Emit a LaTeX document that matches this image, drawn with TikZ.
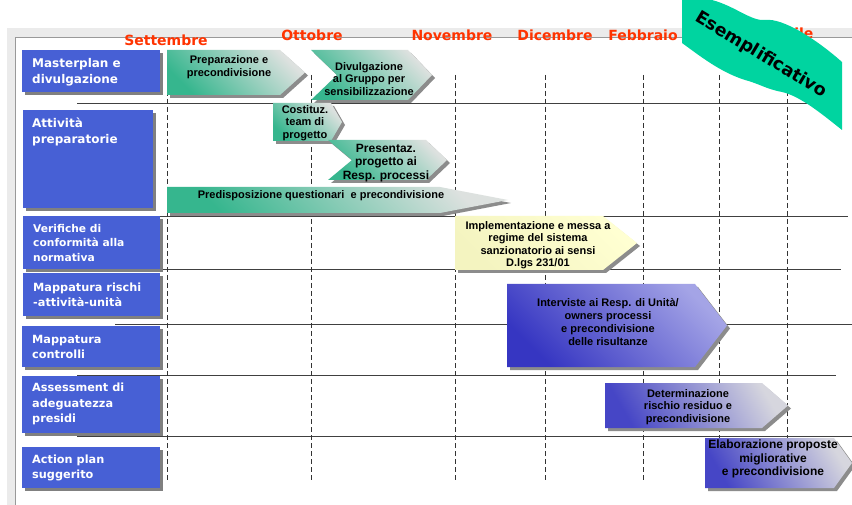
\documentclass[tikz,border=0pt]{standalone}
\usepackage{fontspec}
\setmainfont{DejaVu Sans}
\newfontfamily\phasefont{Liberation Sans}
\usetikzlibrary{shadows}

\definecolor{monthred}{HTML}{FF3300}
\definecolor{rowblue}{HTML}{4760D5}
\definecolor{flaggreen}{HTML}{00D4A0}
\definecolor{tealgreen}{HTML}{36B68E}
\definecolor{palegrey}{HTML}{DDE1DF}
\definecolor{deepblue}{HTML}{3636C2}
\definecolor{lavender}{HTML}{A4A4E6}
\definecolor{steelgrey}{HTML}{D6D6DE}
\definecolor{midblue}{HTML}{4646C6}
\definecolor{paleyellow}{HTML}{FFFFD2}
\definecolor{dimyellow}{HTML}{F4F4C0}

% one phase of the plan: style, left, top, tip start, tip, bottom, notch
\newcommand\phasebox[7]{%
  \path[#1] (#2,#3) -- (#4,#3) -- (#5,{(#3+#6)/2}) -- (#4,#6) -- (#2,#6)
    -- ({#2+#7},{(#3+#6)/2}) -- cycle;}

\begin{document}
\begin{tikzpicture}[x=1pt,y=-1pt,
    month/.style={text=monthred,font=\bfseries\fontsize{14}{16}\selectfont},
    rowbox/.style={fill=rowblue,anchor=north west,inner sep=0pt,
      drop shadow={shadow xshift=3pt,shadow yshift=-3pt,fill=black!50,opacity=1}},
    rowtext/.style={text=white,align=left,anchor=west,inner sep=0pt,
      font=\bfseries\fontsize{11.3}{15.5}\selectfont},
    rowline/.style={draw=black!75,line width=0.8pt},
    monthline/.style={draw=black!80,line width=0.8pt,dash pattern=on 5pt off 3pt},
    phasearrow/.style={drop shadow={shadow xshift=3pt,shadow yshift=-3pt,fill=black!45,opacity=1}},
    greenphase/.style={phasearrow,top color=palegrey,bottom color=tealgreen,shading angle=-45},
    yellowphase/.style={phasearrow,top color=paleyellow,bottom color=dimyellow,shading angle=-45},
    bluephase/.style={phasearrow,top color=lavender,bottom color=deepblue,shading angle=-45},
    greyphase/.style={phasearrow,top color=steelgrey,bottom color=midblue,shading angle=-60},
    phasetext/.style={align=center,inner sep=0pt,
      font=\phasefont\bfseries\fontsize{11}{12.8}\selectfont}]
  \useasboundingbox (0,0) rectangle (852,505);

  % frame
  \fill[black!8] (7,28) rectangle (852,505);
  \fill[white] (15,37) rectangle (852,505);
  \draw[black!40] (15,505) -- (15,37) -- (852,37);

  % rows and months
  \draw[rowline] (77,103) -- (840,103);
  \draw[rowline] (160,216) -- (848,216);
  \draw[rowline] (160,269) -- (841,269);
  \draw[rowline] (115,324) -- (852,324);
  \draw[rowline] (77,375) -- (836,375);
  \draw[rowline] (77,436) -- (852,436);
  \foreach \x in {167,311,455,545,643,719,787}
    \draw[monthline] (\x,75) -- (\x,482);

  \node[month] (set) at (166,40) {Settembre};
  \node[month] (ott) at (312,35) {Ottobre};
  \node[month] (nov) at (452,35) {Novembre};
  \node[month] (dic) at (555,35) {Dicembre};
  \node[month] (feb) at (643,35) {Febbraio};
  \node[month] (apr) at (790,35) {Aprile};

  % activities
  \node[rowbox,minimum width=138pt,minimum height=42pt] (mast) at (22,50) {};
  \node[rowtext,font=\bfseries\fontsize{12}{16}\selectfont] (mast-t) at (32,72) {Masterplan e\\divulgazione};
  \node[rowbox,minimum width=130pt,minimum height=98pt] (prep) at (23,110) {};
  \node[rowtext,font=\bfseries\fontsize{12}{16}\selectfont] (prep-t) at (32,132) {Attività\\preparatorie};
  \node[rowbox,minimum width=137pt,minimum height=53pt] (verif) at (23,216) {};
  \node[rowtext,font=\bfseries\fontsize{10.7}{14.5}\selectfont] (verif-t) at (33,243) {Verifiche di\\conformità alla\\normativa};
  \node[rowbox,minimum width=137pt,minimum height=43pt] (rischi) at (23,273) {};
  \node[rowtext] (rischi-t) at (33,295) {Mappatura rischi\\-attività-unità};
  \node[rowbox,minimum width=138pt,minimum height=41pt] (contr) at (22,326) {};
  \node[rowtext] (contr-t) at (32,347) {Mappatura\\controlli};
  \node[rowbox,minimum width=138pt,minimum height=57pt] (asses) at (22,376) {};
  \node[rowtext] (asses-t) at (32,404) {Assessment di\\adeguatezza\\presidi};
  \node[rowbox,minimum width=138pt,minimum height=41pt] (action) at (22,447) {};
  \node[rowtext] (action-t) at (32,468) {Action plan\\suggerito};

  % phases
  \phasebox{greenphase}{167}{50}{280}{305}{95}{0}
  \node[phasetext] (preparaz) at (229,67) {Preparazione e\\precondivisione};
  \phasebox{greenphase}{311}{50}{408}{432}{100}{26}
  \node[phasetext] (divulg) at (369,79) {Divulgazione\\al Gruppo per\\sensibilizzazione};
  \phasebox{greenphase}{273}{103}{331}{342}{141}{0}
  \node[phasetext] (team) at (305,123) {Costituz.\\team di\\progetto};
  \phasebox{greenphase}{328}{140}{426}{447}{180}{24}
  \node[phasetext,font=\phasefont\bfseries\fontsize{12}{13.5}\selectfont] (presentaz) at (386,163) {Presentaz.\\progetto ai\\Resp. processi};
  \phasebox{greenphase}{167}{187}{440}{508}{213}{0}
  \node[phasetext] (questionari) at (321,196) {Predisposizione questionari\ \ e precondivisione};
  \phasebox{yellowphase}{455}{216}{603}{637}{270}{0}
  \node[phasetext,font=\phasefont\bfseries\fontsize{11}{12.5}\selectfont] (sanzion) at (538,245) {Implementazione e messa a\\regime del sistema\\sanzionatorio ai sensi\\D.lgs 231/01};
  \phasebox{bluephase}{507}{284}{695}{727}{367}{0}
  \node[phasetext] (interviste) at (608,322) {Interviste ai Resp. di Unità/\\owners processi\\e precondivisione\\delle risultanze};
  \phasebox{greyphase}{605}{383}{762}{788}{428}{0}
  \node[phasetext] (residuo) at (688,407) {Determinazione\\rischio residuo e\\precondivisione};
  \phasebox{greyphase}{705}{438}{834}{852}{488}{0}
  \node[phasetext,font=\phasefont\bfseries\fontsize{12}{13.8}\selectfont] (proposte) at (773,459) {Elaborazione proposte\\migliorative\\e precondivisione};

  % banner
  \fill[flaggreen] (682,0) -- (712,0) .. controls (735,6) and (752,22) .. (766,20)
    .. controls (782,18) and (815,38) .. (842,62) -- (842,130)
    .. controls (822,114) and (800,96) .. (782,92)
    .. controls (766,89) and (760,84) .. (745,80)
    .. controls (720,72) and (700,56) .. (682,43) -- cycle;
  \node[rotate=-31,font=\bfseries\fontsize{17.5}{19}\selectfont] (esempl) at (761,55) {Esemplificativo};
\end{tikzpicture}
\end{document}
